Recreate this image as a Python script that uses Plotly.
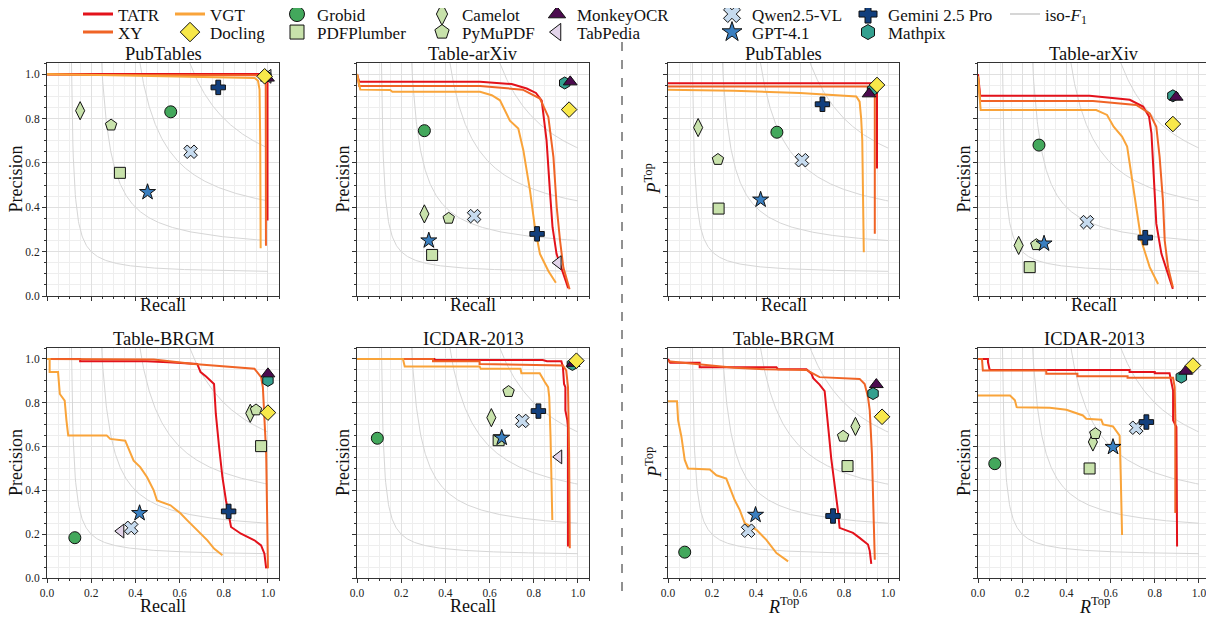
import numpy as np
import plotly.graph_objects as go

W, H = 1214, 617
OFF = 8  # the page body adds an 8px margin, so place everything 8px up/left
FONT = "Liberation Serif"

# ---------------- data ----------------
PANEL_TITLES = ["PubTables", "Table-arXiv", "PubTables", "Table-arXiv",
                "Table-BRGM", "ICDAR-2013", "Table-BRGM", "ICDAR-2013"]
RTOP = "<i>R</i><sup>Top</sup>"
PTOP = "<i>P</i><sup>Top</sup>"
X_LABELS = ["Recall", "Recall", "Recall", "Recall", "Recall", "Recall", RTOP, RTOP]
Y_LABELS = ["Precision", "Precision", PTOP, "Precision", "Precision", "Precision", PTOP, "Precision"]
TICKS = [0.0, 0.2, 0.4, 0.6, 0.8, 1.0]
TICK_TEXT = ["0.0", "0.2", "0.4", "0.6", "0.8", "1.0"]
ISO_F_LEVELS = [0.2, 0.4, 0.6, 0.8]

# marker arrays follow this order
METHODS = ["Docling", "Grobid", "PDFPlumber", "Camelot", "PyMuPDF", "MonkeyOCR",
           "TabPedia", "Qwen2.5-VL", "GPT-4.1", "Gemini 2.5 Pro", "Mathpix"]

# Panel 1: PubTables (P/R)
P1_TATR = [(0, 1.0), (0.99, 1.0), (0.996, 0.995), (0.998, 0.97), (0.998, 0.34)]
P1_XY = [(0, 0.997), (0.97, 0.995), (0.985, 0.985), (0.99, 0.95), (0.991, 0.227)]
P1_VGT = [(0, 1.0), (0.3, 0.995), (0.6, 0.99), (0.9, 0.985), (0.94, 0.982), (0.955, 0.97),
          (0.962, 0.93), (0.965, 0.7), (0.967, 0.215)]
P1_R = [0.985, 0.56, 0.33, 0.15, 0.29, 0.998, 1.0, 0.65, 0.455, 0.775, 0.99]
P1_P = [0.99, 0.83, 0.555, 0.835, 0.77, 0.982, 0.99, 0.65, 0.468, 0.94, 0.99]

# Panel 2: Table-arXiv (P/R)
P2_TATR = [(0, 1.0), (0.01, 0.965), (0.557, 0.965), (0.7, 0.955), (0.768, 0.935), (0.81, 0.915),
           (0.836, 0.88), (0.845, 0.80), (0.858, 0.70), (0.873, 0.475), (0.885, 0.31),
           (0.903, 0.19), (0.934, 0.10), (0.956, 0.035)]
P2_XY = [(0, 1.0), (0.01, 0.946), (0.557, 0.946), (0.75, 0.93), (0.828, 0.89), (0.866, 0.807),
         (0.889, 0.626), (0.904, 0.40), (0.919, 0.249), (0.934, 0.128), (0.962, 0.03)]
P2_VGT = [(0, 1.0), (0.015, 0.93), (0.15, 0.928), (0.16, 0.92), (0.557, 0.92), (0.61, 0.905),
          (0.647, 0.882), (0.692, 0.79), (0.73, 0.755), (0.753, 0.656), (0.783, 0.475),
          (0.805, 0.31), (0.828, 0.19), (0.866, 0.113), (0.90, 0.06)]
P2_R = [0.96, 0.305, 0.34, 0.305, 0.415, 0.965, 0.91, 0.53, 0.325, 0.815, 0.94]
P2_P = [0.84, 0.745, 0.185, 0.37, 0.35, 0.965, 0.15, 0.36, 0.25, 0.28, 0.96]

# Panel 3: PubTables (P^Top / Recall)
P3_TATR = [(0, 0.959), (0.935, 0.959), (0.948, 0.955), (0.95, 0.93), (0.95, 0.575)]
P3_XY = [(0, 0.944), (0.925, 0.944), (0.938, 0.935), (0.94, 0.9), (0.94, 0.28)]
P3_VGT = [(0, 0.929), (0.3, 0.925), (0.6, 0.915), (0.856, 0.899), (0.871, 0.876),
          (0.878, 0.8), (0.883, 0.703), (0.89, 0.197)]
P3_R = [0.95, 0.495, 0.23, 0.137, 0.227, 0.914, None, 0.609, 0.421, 0.702, 0.93]
P3_P = [0.951, 0.738, 0.394, 0.759, 0.615, 0.911, None, 0.612, 0.434, 0.864, 0.929]

# Panel 4: Table-arXiv (P^Top / Recall)
P4_TATR = [(0, 1.0), (0.01, 0.902), (0.505, 0.902), (0.687, 0.884), (0.747, 0.854), (0.774, 0.809),
           (0.785, 0.733), (0.795, 0.552), (0.807, 0.326), (0.83, 0.191), (0.86, 0.10), (0.882, 0.032)]
P4_XY = [(0, 0.99), (0.01, 0.879), (0.52, 0.879), (0.716, 0.861), (0.777, 0.823), (0.807, 0.763),
         (0.822, 0.627), (0.837, 0.431), (0.845, 0.25), (0.86, 0.13), (0.882, 0.039)]
P4_VGT = [(0, 0.99), (0.012, 0.838), (0.535, 0.838), (0.584, 0.816), (0.614, 0.763), (0.652, 0.718),
          (0.675, 0.673), (0.698, 0.522), (0.716, 0.386), (0.739, 0.25), (0.777, 0.13), (0.815, 0.054)]
P4_R = [0.882, 0.276, 0.234, 0.184, 0.264, 0.897, None, 0.493, 0.299, 0.757, 0.882]
P4_P = [0.775, 0.68, 0.13, 0.228, 0.231, 0.896, None, 0.333, 0.236, 0.263, 0.902]

# Panel 5: Table-BRGM (P/R)
P5_TATR = [(0, 1.0), (0.15, 1.0), (0.15, 0.99), (0.45, 0.99), (0.55, 0.985), (0.68, 0.977),
           (0.695, 0.94), (0.72, 0.92), (0.756, 0.886), (0.764, 0.75), (0.779, 0.597),
           (0.794, 0.46), (0.81, 0.354), (0.825, 0.263), (0.833, 0.233), (0.878, 0.202),
           (0.939, 0.172), (0.969, 0.149), (0.984, 0.111), (0.992, 0.044)]
P5_XY = [(0, 1.0), (0.483, 0.997), (0.665, 0.977), (0.848, 0.962), (0.939, 0.955), (0.969, 0.917),
         (0.977, 0.871), (0.992, 0.567), (0.995, 0.263), (1.0, 0.044)]
P5_VGT = [(0, 1.0), (0.012, 1.0), (0.012, 0.94), (0.05, 0.94), (0.058, 0.84), (0.08, 0.81),
          (0.088, 0.72), (0.096, 0.651), (0.27, 0.651), (0.286, 0.635), (0.354, 0.627),
          (0.369, 0.589), (0.392, 0.536), (0.422, 0.506), (0.453, 0.46), (0.483, 0.4),
          (0.498, 0.354), (0.559, 0.332), (0.605, 0.294), (0.635, 0.263), (0.68, 0.218),
          (0.726, 0.172), (0.756, 0.134), (0.794, 0.104)]
P5_R = [1.0, 0.126, 0.969, 0.92, 0.946, 1.0, 0.334, 0.381, 0.419, 0.822, 1.0]
P5_P = [0.755, 0.184, 0.602, 0.752, 0.767, 0.932, 0.214, 0.229, 0.296, 0.304, 0.902]

# Panel 6: ICDAR-2013 (P/R)
P6_TATR = [(0, 1.0), (0.35, 1.0), (0.35, 0.995), (0.84, 0.995), (0.86, 0.99), (0.925, 0.99),
           (0.932, 0.962), (0.937, 0.886), (0.943, 0.871), (0.943, 0.765), (0.952, 0.72),
           (0.955, 0.689), (0.955, 0.144)]
P6_XY = [(0, 1.0), (0.344, 1.0), (0.344, 0.99), (0.555, 0.99), (0.555, 0.977), (0.932, 0.97),
         (0.947, 0.947), (0.955, 0.871), (0.96, 0.568), (0.963, 0.136)]
P6_VGT = [(0, 1.0), (0.208, 1.0), (0.216, 0.966), (0.555, 0.966), (0.56, 0.955), (0.74, 0.955),
          (0.744, 0.935), (0.827, 0.935), (0.85, 0.895), (0.865, 0.871), (0.87, 0.826),
          (0.876, 0.644), (0.884, 0.265)]
P6_R = [0.993, 0.092, 0.641, 0.608, 0.686, 0.978, 0.913, 0.748, 0.655, 0.821, 0.975]
P6_P = [0.992, 0.638, 0.629, 0.732, 0.851, 0.98, 0.553, 0.717, 0.64, 0.762, 0.975]

# Panel 7: Table-BRGM (P^Top / R^Top)
P7_TATR = [(0, 1.0), (0.01, 0.983), (0.144, 0.983), (0.144, 0.962), (0.493, 0.962), (0.5, 0.953),
           (0.629, 0.953), (0.652, 0.933), (0.66, 0.912), (0.689, 0.883), (0.712, 0.853),
           (0.72, 0.756), (0.732, 0.65), (0.742, 0.545), (0.758, 0.424), (0.773, 0.303),
           (0.78, 0.229), (0.841, 0.206), (0.871, 0.183), (0.909, 0.153), (0.917, 0.124), (0.924, 0.064)]
P7_XY = [(0, 0.99), (0.144, 0.975), (0.3, 0.96), (0.44, 0.953), (0.629, 0.95), (0.689, 0.917),
         (0.871, 0.909), (0.894, 0.886), (0.909, 0.826), (0.917, 0.765), (0.927, 0.568),
         (0.935, 0.265), (0.94, 0.083)]
P7_VGT = [(0, 0.807), (0.041, 0.807), (0.046, 0.72), (0.061, 0.645), (0.076, 0.539), (0.091, 0.5),
          (0.19, 0.495), (0.22, 0.469), (0.265, 0.454), (0.28, 0.417), (0.303, 0.356),
          (0.326, 0.311), (0.349, 0.25), (0.402, 0.22), (0.447, 0.174), (0.493, 0.114), (0.546, 0.076)]
P7_R = [0.973, 0.076, 0.816, 0.852, 0.796, 0.947, None, 0.364, 0.398, 0.75, 0.932]
P7_P = [0.736, 0.118, 0.511, 0.692, 0.647, 0.883, None, 0.216, 0.288, 0.283, 0.842]

# Panel 8: ICDAR-2013 (P^Top / R^Top)
P8_TATR = [(0, 1.0), (0.045, 1.0), (0.045, 0.985), (0.053, 0.95), (0.686, 0.95), (0.686, 0.94),
           (0.8, 0.94), (0.8, 0.935), (0.867, 0.935), (0.875, 0.886), (0.883, 0.856),
           (0.883, 0.72), (0.898, 0.689), (0.901, 0.144)]
P8_XY = [(0, 1.0), (0.018, 1.0), (0.022, 0.947), (0.309, 0.947), (0.309, 0.932), (0.45, 0.932),
         (0.45, 0.921), (0.677, 0.921), (0.677, 0.914), (0.883, 0.914), (0.89, 0.871),
         (0.893, 0.72), (0.893, 0.297)]
P8_VGT = [(0, 0.833), (0.145, 0.833), (0.167, 0.811), (0.175, 0.78), (0.325, 0.777), (0.4, 0.768),
          (0.475, 0.742), (0.49, 0.727), (0.558, 0.723), (0.566, 0.701), (0.611, 0.692),
          (0.641, 0.65), (0.646, 0.468), (0.652, 0.196)]
P8_R = [0.973, 0.076, 0.505, 0.52, 0.531, 0.94, None, 0.716, 0.611, 0.762, 0.92]
P8_P = [0.97, 0.522, 0.5, 0.621, 0.659, 0.944, None, 0.686, 0.598, 0.712, 0.917]

PANELS = [
    (P1_TATR, P1_XY, P1_VGT, P1_R, P1_P),
    (P2_TATR, P2_XY, P2_VGT, P2_R, P2_P),
    (P3_TATR, P3_XY, P3_VGT, P3_R, P3_P),
    (P4_TATR, P4_XY, P4_VGT, P4_R, P4_P),
    (P5_TATR, P5_XY, P5_VGT, P5_R, P5_P),
    (P6_TATR, P6_XY, P6_VGT, P6_R, P6_P),
    (P7_TATR, P7_XY, P7_VGT, P7_R, P7_P),
    (P8_TATR, P8_XY, P8_VGT, P8_R, P8_P),
]

# ---------------- styles ----------------
LINE_COLORS = {"TATR": "#e3121b", "XY": "#f06426", "VGT": "#f9a43a"}
ISO_COLOR = "#d6d6d6"
MARKER_STYLE = {
    "Docling": ("diamond", "#f8e84a", 12),
    "Grobid": ("circle", "#43a85c", 12),
    "PDFPlumber": ("square", "#c8e2ab", 11),
    "Camelot": ("diamond-tall", "#c8e2ab", 13),
    "PyMuPDF": ("pentagon", "#c8e2ab", 12),
    "MonkeyOCR": ("triangle-up", "#4c0b4f", 12),
    "TabPedia": ("triangle-left", "#e3d4ea", 12),
    "Qwen2.5-VL": ("x", "#c6dbef", 12),
    "GPT-4.1": ("star", "#3a7fc0", 12),
    "Gemini 2.5 Pro": ("cross", "#123f7d", 12),
    "Mathpix": ("hexagon", "#34a08f", 12),
}
DRAW_ORDER = ["Grobid", "PDFPlumber", "Camelot", "PyMuPDF", "TabPedia", "Qwen2.5-VL",
              "GPT-4.1", "Gemini 2.5 Pro", "Mathpix", "MonkeyOCR", "Docling"]
LEGEND_ORDER = ["TATR", "XY", "VGT", "Docling", "Grobid", "PDFPlumber", "Camelot", "PyMuPDF",
                "MonkeyOCR", "TabPedia", "Qwen2.5-VL", "GPT-4.1", "Gemini 2.5 Pro", "Mathpix", "iso"]
LEG_COL_X = [78, 170, 277, 422, 537, 712, 848, 1005]
LEG_ROW_Y = [14.5, 32.5]

X_PIX = [(47, 279), (357, 589), (668, 899), (978, 1210)]
Y_PIX = [(63, 296), (348, 578)]
YLAB_X = [16, 343, 653, 964]


def px(x):
    return (x - OFF) / W


def py(y):
    return 1 - (y - OFF) / H


fig = go.Figure()

for i, (tatr, xy, vgt, mr, mp) in enumerate(PANELS):
    k = i + 1
    xa = "x" if k == 1 else f"x{k}"
    ya = "y" if k == 1 else f"y{k}"
    for f in ISO_F_LEVELS:
        r = np.linspace(f / 2 + 1e-3, 1.0, 500)
        p = f * r / (2 * r - f)
        m = p <= 1.3
        fig.add_trace(go.Scatter(x=r[m], y=p[m], mode="lines", line=dict(color=ISO_COLOR, width=1),
                                 xaxis=xa, yaxis=ya, showlegend=False, hoverinfo="skip"))
    for name, pts in (("TATR", tatr), ("XY", xy), ("VGT", vgt)):
        fig.add_trace(go.Scatter(x=[q[0] for q in pts], y=[q[1] for q in pts], mode="lines",
                                 name=name, line=dict(color=LINE_COLORS[name], width=2),
                                 xaxis=xa, yaxis=ya, showlegend=False))
    for name in DRAW_ORDER:
        j = METHODS.index(name)
        if mr[j] is None:
            continue
        sym, col, sz = MARKER_STYLE[name]
        fig.add_trace(go.Scatter(x=[mr[j]], y=[mp[j]], mode="markers", name=name,
                                 marker=dict(symbol=sym, color=col, size=sz,
                                             line=dict(color="#111111", width=1)),
                                 xaxis=xa, yaxis=ya, showlegend=False, cliponaxis=False))

# legend entries (one small legend per entry, arranged in a 2-row grid)
layout = dict(
    width=W, height=H, margin=dict(l=0, r=0, t=0, b=0, autoexpand=False),
    paper_bgcolor="white", plot_bgcolor="white",
    font=dict(family=FONT, size=11, color="#111111"),
    showlegend=True,
)
for idx, nm in enumerate(LEGEND_ORDER):
    key = "legend" if idx == 0 else f"legend{idx + 1}"
    c, rw = divmod(idx, 2)
    if nm in LINE_COLORS:
        tr = go.Scatter(x=[None], y=[None], mode="lines", name=nm,
                        line=dict(color=LINE_COLORS[nm], width=3))
    elif nm == "iso":
        tr = go.Scatter(x=[None], y=[None], mode="lines", name="iso-<i>F</i><sub>1</sub>",
                        line=dict(color=ISO_COLOR, width=2))
    else:
        sym, col, sz = MARKER_STYLE[nm]
        tr = go.Scatter(x=[None], y=[None], mode="markers", name=nm,
                        marker=dict(symbol=sym, color=col, size=sz + 3,
                                    line=dict(color="#111111", width=1)))
    tr.update(legend=key, showlegend=True, xaxis="x", yaxis="y", hoverinfo="skip")
    fig.add_trace(tr)
    layout[key] = dict(x=px(LEG_COL_X[c]), y=py(LEG_ROW_Y[rw]), xanchor="left",
                       yanchor="middle", orientation="v", bgcolor="rgba(0,0,0,0)",
                       borderwidth=0, tracegroupgap=0, itemwidth=30,
                       font=dict(family=FONT, size=17, color="#111111"))

annotations = []
for i in range(8):
    k = i + 1
    row, col = divmod(i, 4)
    x0, x1 = X_PIX[col]
    top, bot = Y_PIX[row]
    xk = "xaxis" if k == 1 else f"xaxis{k}"
    yk = "yaxis" if k == 1 else f"yaxis{k}"
    ya = "y" if k == 1 else f"y{k}"
    xa = "x" if k == 1 else f"x{k}"
    common = dict(range=[0, 1.05], tickvals=TICKS, ticktext=TICK_TEXT, ticks="outside", ticklen=4,
                  tickwidth=1, tickcolor="#333333", showline=True, mirror=True, linecolor="#333333",
                  linewidth=1, showgrid=True, gridcolor="#e0e0e0", gridwidth=1, zeroline=False,
                  automargin=False,
                  tickfont=dict(family=FONT, size=11.5, color="#222222"),
                  minor=dict(dtick=0.05, tick0=0, ticks="outside", ticklen=2, tickcolor="#333333",
                             showgrid=True, gridcolor="#eeeeee", gridwidth=1),
                  fixedrange=True)
    layout[xk] = dict(common, domain=[px(x0), px(x1)], anchor=ya, showticklabels=(row == 1))
    layout[yk] = dict(common, domain=[py(bot), py(top)], anchor=xa, showticklabels=(col == 0))
    cx = (x0 + x1) / 2
    annotations.append(dict(text=PANEL_TITLES[i], x=px(cx), y=py(top - 9), xref="paper", yref="paper",
                            xanchor="center", yanchor="middle", showarrow=False,
                            font=dict(family=FONT, size=18.5, color="#111111")))
    xl_y = 305 if row == 0 else 605.5
    annotations.append(dict(text=X_LABELS[i], x=px(cx), y=py(xl_y), xref="paper", yref="paper",
                            xanchor="center", yanchor="middle", showarrow=False,
                            font=dict(family=FONT, size=18, color="#111111")))
    annotations.append(dict(text=Y_LABELS[i], x=px(YLAB_X[col]), y=py((top + bot) / 2),
                            xref="paper", yref="paper", xanchor="center", yanchor="middle",
                            textangle=-90, showarrow=False,
                            font=dict(family=FONT, size=18, color="#111111")))
layout["annotations"] = annotations

layout["shapes"] = [dict(type="line", xref="paper", yref="paper", x0=px(622), x1=px(622),
                         y0=py(42), y1=py(600),
                         line=dict(color="#222222", width=1, dash="dash"))]

fig.update_layout(**layout)
fig.write_html("out.html")
